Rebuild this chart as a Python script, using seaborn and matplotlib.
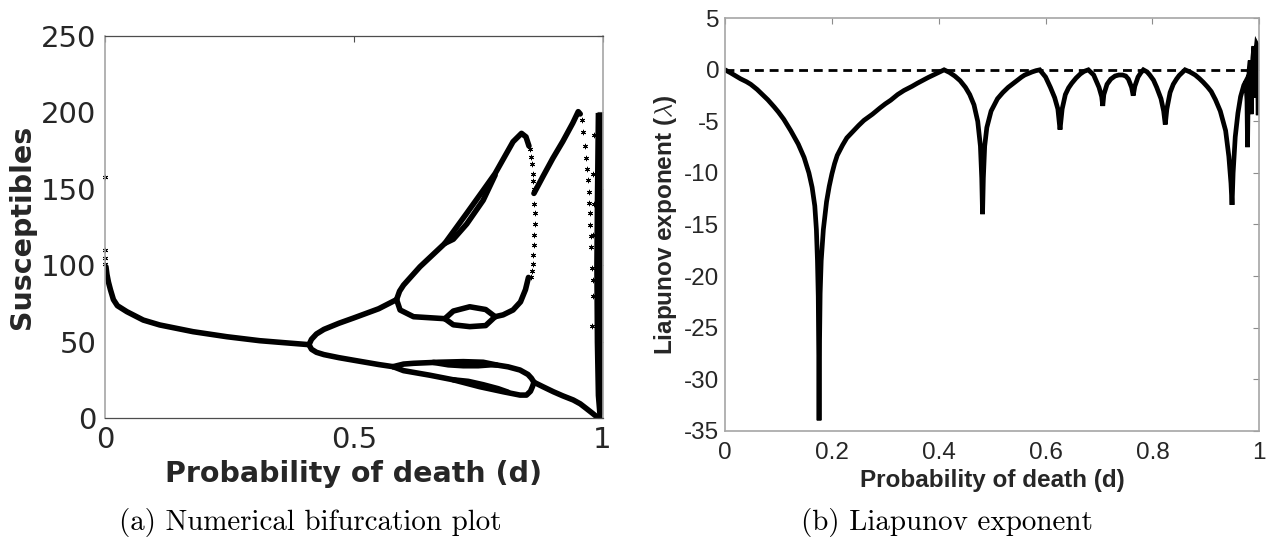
import matplotlib
matplotlib.use("Agg")
import matplotlib.pyplot as plt
import seaborn as sns

# ---------------- data: (a) bifurcation branches ----------------
p1_d = [0.002, 0.004, 0.007, 0.011, 0.017, 0.025, 0.044, 0.077, 0.110, 0.177, 0.245, 0.311, 0.360, 0.410]
p1_S = [99, 94, 89, 84, 77.5, 73.5, 69.6, 64.1, 60.9, 56.5, 53.2, 50.6, 49.3, 48.0]

up_d = [0.410, 0.415, 0.425, 0.440, 0.470, 0.500, 0.550, 0.586]
up_S = [48.0, 51.5, 55.0, 58.0, 62.0, 65.5, 71.5, 77.5]
lo_d = [0.410, 0.415, 0.425, 0.440, 0.470, 0.500, 0.550, 0.579]
lo_S = [48.0, 45.0, 43.0, 41.5, 39.5, 37.8, 35.0, 33.6]

uu_d = [0.586, 0.592, 0.600, 0.633, 0.683, 0.727, 0.760, 0.784, 0.820, 0.837, 0.846, 0.852]
uu_S = [77.5, 83.0, 87.0, 99.0, 114.3, 134.0, 149.0, 160.0, 180.8, 186.3, 184.0, 178.0]
il_d = [0.683, 0.700, 0.727, 0.760, 0.784]
il_S = [114.3, 117.0, 127.0, 142.5, 159.0]

ul_d = [0.586, 0.593, 0.620, 0.683]
ul_S = [77.5, 70.7, 66.3, 65.0]
bu_d = [0.683, 0.700, 0.733, 0.765, 0.784]
bu_S = [65.0, 70.0, 72.8, 71.0, 66.3]
bl_d = [0.683, 0.700, 0.733, 0.765, 0.784]
bl_S = [65.0, 61.0, 59.8, 60.5, 66.3]
ua_d = [0.784, 0.800, 0.820, 0.835, 0.845, 0.851]
ua_S = [66.3, 67.5, 70.7, 76.0, 84.0, 92.0]

lbu_d = [0.579, 0.600, 0.620, 0.670, 0.720, 0.760, 0.787, 0.810, 0.834, 0.850, 0.857, 0.862]
lbu_S = [33.6, 35.3, 35.8, 36.5, 36.9, 36.5, 34.7, 33.5, 31.4, 28.5, 26.0, 23.4]
lbi_d = [0.660, 0.690, 0.720, 0.750, 0.775, 0.787]
lbi_S = [36.4, 34.8, 34.2, 34.2, 34.8, 34.7]
lbl_d = [0.579, 0.600, 0.653, 0.700, 0.753, 0.800, 0.834, 0.847, 0.855, 0.859, 0.862]
lbl_S = [33.6, 31.0, 28.0, 25.0, 20.5, 17.2, 15.0, 15.0, 17.5, 20.5, 23.4]
lbj_d = [0.700, 0.730, 0.760, 0.790, 0.810]
lbj_S = [25.0, 24.0, 21.8, 19.2, 16.9]
tail_d = [0.862, 0.880, 0.901, 0.920, 0.941, 0.955, 0.967, 0.978, 0.988, 0.995]
tail_S = [23.4, 20.5, 17.2, 14.5, 11.8, 9.3, 6.3, 3.5, 0.9, 0.0]

sb_d = [0.862, 0.880, 0.900, 0.920, 0.940, 0.951, 0.955]
sb_S = [147.0, 158.0, 170.0, 181.0, 193.0, 200.5, 199.0]

star_d = [0.000, 0.000, 0.001, 0.001,
          0.855, 0.857, 0.859, 0.860, 0.861, 0.862, 0.863, 0.864, 0.864, 0.863, 0.862, 0.861, 0.860, 0.858, 0.856,
          0.958, 0.961, 0.964, 0.967, 0.969, 0.971, 0.972, 0.973, 0.974, 0.975, 0.976, 0.977, 0.979, 0.980,
          0.982, 0.981, 0.982, 0.980, 0.981, 0.979]
star_S = [158, 110, 105, 101,
          176, 171, 166, 160, 155, 150, 140, 134, 127, 120, 113, 107, 101, 96, 92,
          195, 187, 178, 170, 163, 156, 148, 141, 134, 126, 119, 112, 98, 90,
          185, 160, 140, 120, 80, 60]

chaos_S = [0, 3, 15, 50, 100, 140, 170, 200]
chaos_left = [0.994, 0.988, 0.985, 0.983, 0.982, 0.983, 0.984, 0.985]
chaos_right = [0.998, 1.0, 1.0, 1.0, 1.0, 1.0, 1.0, 1.0]

# ---------------- data: (b) Liapunov exponent ----------------
lyap_d = [0.000, 0.010, 0.029, 0.040, 0.048, 0.060, 0.070, 0.080, 0.092, 0.100, 0.110, 0.123,
          0.137, 0.148, 0.157, 0.163, 0.168,
          0.171, 0.173, 0.1745, 0.1755, 0.176, 0.1765, 0.178, 0.180, 0.184, 0.190, 0.195, 0.200,
          0.205, 0.210, 0.220,
          0.228, 0.240, 0.250, 0.260, 0.276, 0.290, 0.300, 0.310, 0.323, 0.335, 0.350, 0.360,
          0.371, 0.380, 0.390, 0.400, 0.410,
          0.420, 0.430, 0.440, 0.450, 0.458, 0.466, 0.473, 0.478, 0.4805, 0.482, 0.4835, 0.486,
          0.490, 0.498, 0.510, 0.520, 0.530, 0.540, 0.545, 0.555, 0.561, 0.568, 0.575, 0.582, 0.589,
          0.600, 0.609, 0.617, 0.623, 0.627, 0.631, 0.637, 0.643, 0.649, 0.657, 0.665, 0.672, 0.680,
          0.690, 0.700, 0.705, 0.707, 0.709, 0.715, 0.722, 0.730, 0.737, 0.744, 0.750, 0.755, 0.761,
          0.764, 0.767, 0.773, 0.778, 0.783,
          0.790, 0.795, 0.802, 0.808, 0.816, 0.821, 0.824, 0.827, 0.833, 0.839, 0.845, 0.850, 0.855,
          0.861,
          0.870, 0.880, 0.888, 0.895, 0.903, 0.910, 0.918, 0.927, 0.937, 0.943, 0.947, 0.949, 0.951,
          0.955, 0.960, 0.965, 0.971, 0.975, 0.977, 0.978, 0.979, 0.981, 0.983, 0.984, 0.985,
          0.986, 0.988, 0.990, 0.991, 0.992, 0.993, 0.995, 0.996, 0.997, 0.998, 0.999, 1.000]
lyap_val = [0.0, -0.28, -0.87, -1.15, -1.4, -1.9, -2.4, -2.9, -3.6, -4.1, -4.8, -5.9,
            -7.2, -8.5, -10.0, -11.4, -13.2,
            -15.5, -18.5, -22.0, -28.0, -34.0, -28.0, -21.7, -18.5, -15.5, -12.8, -11.3, -10.1,
            -9.1, -8.3, -7.3,
            -6.6, -5.95, -5.4, -4.9, -4.3, -3.7, -3.3, -2.95, -2.4, -2.0, -1.6, -1.3,
            -1.0, -0.75, -0.5, -0.25, 0.0,
            -0.25, -0.6, -1.05, -1.7, -2.4, -3.4, -5.0, -7.4, -10.5, -14.0, -10.5, -7.4,
            -5.6, -4.0, -2.8, -2.2, -1.7, -1.3, -1.1, -0.7, -0.5, -0.35, -0.2, -0.08, 0.0,
            -0.7, -1.7, -2.7, -3.8, -5.8, -3.8, -2.4, -1.75, -1.3, -0.8, -0.4, -0.15, 0.0,
            -0.5, -1.7, -2.6, -3.5, -2.4, -1.4, -0.9, -0.6, -0.5, -0.5, -0.6, -0.9, -1.7,
            -2.5, -1.6, -0.7, -0.3, 0.0,
            -0.2, -0.5, -1.0, -1.7, -2.8, -4.0, -5.3, -3.8, -2.2, -1.4, -0.9, -0.55, -0.3,
            0.0,
            -0.2, -0.5, -0.85, -1.2, -1.65, -2.1, -2.9, -4.0, -5.9, -8.4, -11.0, -13.1, -10.0,
            -6.5, -4.2, -2.6, -1.5, -1.1, -3.0, -7.5, -3.0, 0.0, 0.9, -1.5, -4.3,
            -0.5, 1.2, 2.3, -1.0, -2.7, 1.5, 2.5, 2.4, -1.0, -4.4, 0.0, 2.2]

left_xticks = [0, 0.5, 1]
left_xlabels = ["0", "0.5", "1"]
left_yticks = [0, 50, 100, 150, 200, 250]
right_xticks = [0, 0.2, 0.4, 0.6, 0.8, 1.0]
right_xlabels = ["0", "0.2", "0.4", "0.6", "0.8", "1"]
right_yticks = [-35, -30, -25, -20, -15, -10, -5, 0, 5]
right_ylabels = ["-35", "-30", "-25", "-20", "-15", "-10", "-5", "0", "5"]

# ---------------- style ----------------
sns.set_theme(style="white")
plt.rcParams["font.family"] = ["DejaVu Sans"]
plt.rcParams["mathtext.fontset"] = "cm"

TXT = "#262626"
SANS = ["Liberation Sans", "DejaVu Sans"]
fig = plt.figure(figsize=(12.66, 5.44), dpi=100)
axL = fig.add_axes([0.0829, 0.2316, 0.3931, 0.7022])
axR = fig.add_axes([0.5727, 0.2083, 0.4220, 0.7581])

LW = 4.0


def branch(ax, d, s, lw=LW):
    sns.lineplot(x=d, y=s, sort=False, estimator=None, color="black", lw=lw, ax=ax,
                 solid_capstyle="round", solid_joinstyle="round")


for d, s in [(p1_d, p1_S), (up_d, up_S), (lo_d, lo_S), (uu_d, uu_S), (il_d, il_S),
             (ul_d, ul_S), (bu_d, bu_S), (bl_d, bl_S), (ua_d, ua_S), (lbu_d, lbu_S),
             (lbl_d, lbl_S), (tail_d, tail_S), (sb_d, sb_S), (lbi_d, lbi_S), (lbj_d, lbj_S)]:
    branch(axL, d, s)

sns.scatterplot(x=star_d, y=star_S, marker=(6, 2, 0), s=11, color="black", edgecolor="black",
                linewidth=0.7, ax=axL, clip_on=False)
axL.fill_betweenx(chaos_S, chaos_left, chaos_right, color="black", lw=0)

axL.set_xlim(0, 1)
axL.set_ylim(0, 250)
axL.set_xticks(left_xticks)
axL.set_xticklabels(left_xlabels)
axL.set_yticks(left_yticks)
axL.tick_params(axis="both", direction="in", length=4, width=0.8, color="#4d4d4d",
                top=True, right=True, labelsize=21, labelcolor=TXT, pad=6)
for side in ["top", "bottom"]:
    axL.spines[side].set_color("#4d4d4d")
    axL.spines[side].set_linewidth(0.9)
for side in ["left", "right"]:
    axL.spines[side].set_color("#a6a6a6")
    axL.spines[side].set_linewidth(1.2)
axL.set_xlabel("Probability of death (d)", fontsize=20.5, fontweight="bold", color=TXT, labelpad=4)
axL.set_ylabel("Susceptibles", fontsize=20.5, fontweight="bold", color=TXT, labelpad=4)

# ---------------- (b) ----------------
axR.axhline(0, color="black", lw=2.0, ls=(0, (3.2, 2.1)), zorder=1)
sns.lineplot(x=lyap_d, y=lyap_val, sort=False, estimator=None, color="black", lw=3.4, ax=axR,
             solid_joinstyle="miter")
axR.set_xlim(0, 1)
axR.set_ylim(-35, 5)
axR.set_xticks(right_xticks)
axR.set_xticklabels(right_xlabels)
axR.set_yticks(right_yticks)
axR.set_yticklabels(right_ylabels)
axR.tick_params(axis="both", direction="in", length=4, width=0.8, color="#8c8c8c",
                top=True, right=True, labelsize=17.5, labelcolor=TXT)
axR.tick_params(axis="x", pad=8.5)
axR.tick_params(axis="y", pad=4)
for lab in axR.get_xticklabels() + axR.get_yticklabels():
    lab.set_family(SANS)
for side in axR.spines:
    axR.spines[side].set_color("#a6a6a6")
    axR.spines[side].set_linewidth(1.2)
axR.set_xlabel("Probability of death (d)", fontsize=17.5, fontweight="bold", color=TXT,
               family=SANS, labelpad=3)
axR.set_ylabel(r"Liapunov exponent ($\lambda$)", fontsize=17.5, fontweight="bold", color=TXT,
               family=SANS, labelpad=4)

# ---------------- captions ----------------
fig.text(310.5 / 1266, 1 - 522 / 544, "(a) Numerical bifurcation plot", family="cmr10",
         fontsize=20.9, ha="center", va="center", color="black")
fig.text(947 / 1266, 1 - 522 / 544, "(b) Liapunov exponent", family="cmr10",
         fontsize=20.9, ha="center", va="center", color="black")

fig.savefig("out.png", dpi=100)
